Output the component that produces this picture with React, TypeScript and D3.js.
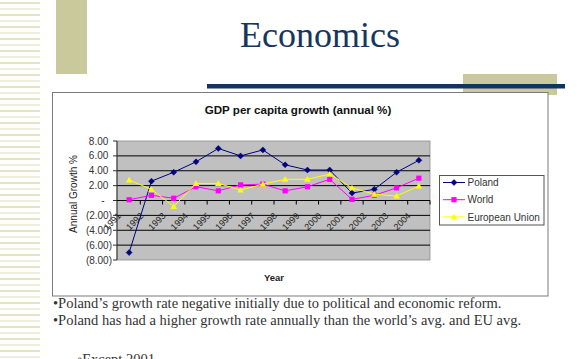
import React from "react";
import * as d3 from "d3";

const years = ["1991","1992","1993","1994","1995","1996","1997","1998","1999","2000","2001","2002","2003","2004"];
const poland = [-7.0, 2.6, 3.8, 5.2, 7.0, 6.0, 6.8, 4.8, 4.1, 4.1, 1.0, 1.5, 3.8, 5.4];
const world = [0.1, 0.7, 0.3, 1.85, 1.3, 2.1, 2.2, 1.3, 1.85, 2.85, 0.15, 0.7, 1.7, 3.0];
const eu = [2.75, 1.5, -0.8, 2.3, 2.3, 1.4, 2.2, 2.85, 2.85, 3.55, 1.7, 0.85, 0.6, 1.95];
const yTicks = [-8, -6, -4, -2, 0, 2, 4, 6, 8];
const seriesNames = ["Poland", "World", "European Union"];
const bullets = [
  "•Poland’s growth rate negative initially due to political and economic reform.",
  "•Poland has had a higher growth rate annually than the world’s avg. and EU avg.",
];
const subBullet = "◦Except 2001";

const W = 580, H = 359;
const plot = { l: 118, r: 430, t: 141, b: 260 };

const fmt = (v: number) => {
  if (v === 0) return "-";
  const s = Math.abs(v).toFixed(2);
  return v < 0 ? `(${s})` : s;
};

function Marker({ kind, x, y }: { kind: number; x: number; y: number }) {
  if (kind === 0) {
    const s = 3;
    return <path d={`M${x},${y - s}L${x + s},${y}L${x},${y + s}L${x - s},${y}Z`} fill="#000080" stroke="#000080" strokeWidth={0.5} />;
  }
  if (kind === 1) {
    return <rect x={x - 2.6} y={y - 2.6} width={5.2} height={5.2} fill="#ff00ff" />;
  }
  return <path d={`M${x},${y - 3.2}L${x + 3.3},${y + 2.5}L${x - 3.3},${y + 2.5}Z`} fill="#ffff00" />;
}

export default function App() {
  const x = d3.scaleBand<string>().domain(years).range([plot.l, plot.r]).padding(0);
  const cx = (yr: string) => (x(yr) as number) + x.bandwidth() / 2;
  const y = d3.scaleLinear().domain([-8, 8]).range([plot.b, plot.t]);
  const data = [poland, world, eu];
  const colors = ["#000080", "#ff00ff", "#ffff00"];
  const line = d3.line<number>().x((_, i) => cx(years[i])).y((v) => y(v));
  const stripes = d3.range(0, H, 6);

  return (
    <svg width={W} height={H} style={{ position: "absolute", left: 0, top: 0, background: "#fff" }}>
      <rect x={0} y={0} width={W} height={H} fill="#fff" />
      {stripes.map((s, i) => (
        <rect key={i} x={0} y={s + 2} width={40} height={2} fill={i % 2 === 0 ? "#e3e3c8" : "#eeeedd"} />
      ))}
      <rect x={56} y={0} width={31} height={74} fill="#c9c99b" />
      <rect x={463} y={74} width={94} height={21} fill="#c9c99b" />
      <rect x={207} y={84} width={358} height={4.5} fill="#12355e" />
      <text x={320} y={47} textAnchor="middle" fontFamily="'Liberation Serif', 'Times New Roman', serif" fontSize={36} fill="#16365e">Economics</text>

      <rect x={52.5} y={92.5} width={495.5} height={203.5} fill="#fff" stroke="#7a7a7a" strokeWidth={1} />
      <text x={298} y={114} textAnchor="middle" fontFamily="Arial, 'Liberation Sans', sans-serif" fontWeight="bold" fontSize={11.6} fill="#111">GDP per capita growth (annual %)</text>

      <rect x={plot.l - 1} y={plot.t} width={plot.r - plot.l + 1} height={plot.b - plot.t} fill="#c0c0c0" stroke="#8c8c8c" strokeWidth={0.8} />
      {yTicks.filter((t) => t !== -8 && t !== 8 && t !== 0).map((t) => (
        <line key={t} x1={plot.l - 1} x2={plot.r} y1={y(t)} y2={y(t)} stroke="#000" strokeWidth={1} />
      ))}
      <line x1={plot.l - 1} x2={plot.l - 1} y1={plot.t} y2={plot.b} stroke="#333" strokeWidth={1} />
      {yTicks.map((t) => (
        <g key={t}>
          <line x1={plot.l - 5} x2={plot.l - 1} y1={y(t)} y2={y(t)} stroke="#333" strokeWidth={1} />
          <text
            x={t < 0 ? 112 : t === 0 ? 104.5 : 108.3}
            y={y(t) + 3.5}
            textAnchor="end"
            fontFamily="Arial, 'Liberation Sans', sans-serif"
            fontSize={10}
            fill="#333"
          >
            {fmt(t)}
          </text>
        </g>
      ))}
      <line x1={plot.l - 1} x2={plot.r} y1={y(0)} y2={y(0)} stroke="#000" strokeWidth={1} />
      {years.map((yr) => (
        <line key={"t" + yr} x1={(x(yr) as number) + x.bandwidth()} x2={(x(yr) as number) + x.bandwidth()} y1={y(0)} y2={y(0) + 4} stroke="#000" strokeWidth={1} />
      ))}
      {years.map((yr) => (
        <text
          key={"l" + yr}
          transform={`translate(${cx(yr) - 7.5},${y(0) + 16}) rotate(-45)`}
          textAnchor="end"
          fontFamily="Arial, 'Liberation Sans', sans-serif"
          fontSize={9}
          fill="#222"
        >
          {yr}
        </text>
      ))}

      {data.map((d, si) => (
        <g key={si}>
          <path d={line(d) as string} fill="none" stroke={colors[si]} strokeWidth={1} />
          {d.map((v, i) => (
            <Marker key={i} kind={si} x={cx(years[i])} y={y(v)} />
          ))}
        </g>
      ))}

      <text transform={`translate(77,194) rotate(-90)`} textAnchor="middle" fontFamily="Arial, 'Liberation Sans', sans-serif" fontSize={10} fill="#222">Annual Growth %</text>
      <text x={274} y={280.5} textAnchor="middle" fontFamily="Arial, 'Liberation Sans', sans-serif" fontWeight="bold" fontSize={9.5} fill="#222">Year</text>

      <rect x={439.5} y={175.5} width={104.5} height={49.5} fill="#fff" stroke="#555" strokeWidth={1} />
      {seriesNames.map((n, i) => {
        const ly = 182.5 + i * 17.2;
        return (
          <g key={n}>
            <line x1={443} x2={465} y1={ly} y2={ly} stroke={colors[i]} strokeWidth={1} />
            <Marker kind={i} x={454} y={ly} />
            <text x={467.5} y={ly + 3.6} fontFamily="Arial, 'Liberation Sans', sans-serif" fontSize={10} fill="#333">{n}</text>
          </g>
        );
      })}

      {bullets.map((b, i) => (
        <text key={i} x={53} y={307.5 + i * 17.5} fontFamily="'Liberation Serif', 'Times New Roman', serif" fontSize={14.5} fill="#333">{b}</text>
      ))}
      <text x={77} y={364} fontFamily="'Liberation Serif', 'Times New Roman', serif" fontSize={14.5} fill="#333">{subBullet}</text>
    </svg>
  );
}
